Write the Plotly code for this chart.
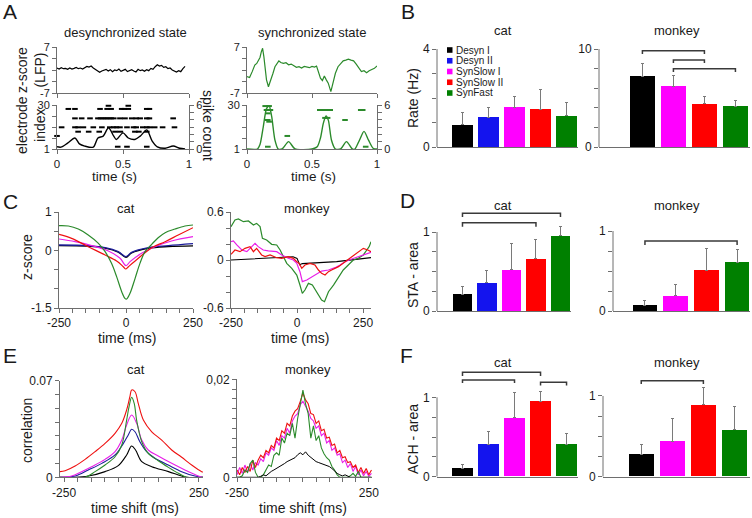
import plotly.graph_objects as go

W, H = 752, 518
FONT = "Liberation Sans, Arial, Helvetica, sans-serif"
AX = "#6e6e6e"
TXT = "#1a1a1a"

# bar colours / line colours
BAR_COLORS_CAT = ["#000000", "#1414ee", "#ff00ff", "#ff0000", "#008000"]
BAR_COLORS_MON = ["#000000", "#ff00ff", "#ff0000", "#008000"]
LEGEND_NAMES = ["Desyn I", "Desyn II", "SynSlow I", "SynSlow II", "SynFast"]
L_BLACK, L_BLUE, L_MAG, L_RED, L_GREEN = "#000000", "#1c1c9a", "#e81ee8", "#ee1111", "#2b8a2b"

# ---------------- Panel A data ----------------
desync_lfp = [0.6, 0.3, 0.7, 0.4, 0.5, 0.2, 0.6, 0.3, 0.5, 0.8, 0.4, 0.6, 0.3, 0.7, 1.1, 0.9, 1.2, 0.6, 0.2, -0.4,
              -0.7, -0.3, -0.1, 0.2, -0.3, 0.1, -0.5, 0.0, -0.2, 0.3, -0.4, -0.1, 0.2, -0.5, -0.1, 0.1, -0.3, -0.6,
              0.2, -0.2, 0.0, -0.4, 0.1, -0.2, 0.5, 0.2, 1.0, 1.6, 1.2, 1.4, 0.8, 1.0, 0.4, 0.6, 0.0, -0.3, -0.6,
              -0.2, -0.5, 0.4, 1.1]
desync_lfp_end = 0.97

sync_t = [0, 0.02, 0.04, 0.06, 0.075, 0.09, 0.1, 0.11, 0.12, 0.13, 0.14, 0.15, 0.165, 0.18, 0.2, 0.215, 0.23,
          0.245, 0.26, 0.28, 0.3, 0.32, 0.34, 0.36, 0.38, 0.4, 0.42, 0.44, 0.46, 0.48, 0.5, 0.52, 0.535, 0.55,
          0.565, 0.58, 0.595, 0.61, 0.625, 0.645, 0.665, 0.68, 0.7, 0.72, 0.74, 0.76, 0.78, 0.8, 0.82, 0.84,
          0.86, 0.88, 0.9, 0.92, 0.94, 0.96, 0.98, 1.0]
sync_lfp = [-2.0, -2.3, -0.5, 1.5, 2.0, 3.0, 3.8, 5.5, 6.6, 4.0, 0.5, -3.0, -5.1, -3.5, -1.0, 1.0, 2.0, 2.8, 2.3,
            2.0, 2.2, 1.6, 1.8, 1.2, 0.8, 1.0, 0.6, 1.1, 0.9, 0.7, 1.1, 0.9, 1.2, -1.0, -2.5, -3.2, -1.8, -3.0,
            -4.0, -6.6, -3.5, -1.0, 1.0, 2.0, 2.8, 3.0, 3.3, 3.0, 2.8, 1.8, 0.6, -0.5, -0.2, -0.8, -0.2, 0.2, 0.5,
            1.2]

desync_count_t = [0, 0.03, 0.08, 0.136, 0.17, 0.21, 0.275, 0.31, 0.35, 0.39, 0.43, 0.45, 0.5, 0.54, 0.59, 0.63,
                  0.68, 0.72, 0.76, 0.82, 0.88, 0.93, 0.97]
desync_count = [0.3, 0.25, 0.8, 1.5, 0.7, 0.4, 0.25, 1.5, 1.75, 2.9, 1.75, 1.3, 2.2, 1.5, 1.3, 1.75, 2.6, 1.1,
                0.3, 0.1, 0.4, 0.1, 0.0]
sync_count_t = [0, 0.08, 0.1, 0.125, 0.15, 0.17, 0.19, 0.215, 0.24, 0.27, 0.32, 0.37, 0.5, 0.54, 0.565, 0.587,
                0.608, 0.626, 0.65, 0.68, 0.72, 0.765, 0.81, 0.83, 0.865, 0.9, 0.935, 0.97, 1.0]
sync_count = [0, 0, 0.6, 3.0, 5.5, 5.9, 4.4, 1.2, 0, 0, 1.0, 0, 0, 0.3, 1.5, 3.5, 4.5, 3.9, 1.2, 0, 0, 1.0, 0, 0,
              1.2, 2.4, 1.2, 0.1, 0]

desync_raster_ch = [29.5, 27.4, 21.2, 15.3, 12.4, 9.6, 2.5]
desync_raster_times = [
    [0.39, 0.54],
    [0.086, 0.136, 0.326, 0.38, 0.41, 0.49, 0.51, 0.54, 0.68, 0.70],
    [0.136, 0.187, 0.25, 0.31, 0.33, 0.35, 0.37, 0.39, 0.41, 0.43, 0.477, 0.515, 0.566, 0.6, 0.63, 0.68, 0.70, 0.88],
    [0.035, 0.136, 0.16, 0.2, 0.275, 0.34, 0.40, 0.43, 0.45, 0.477, 0.53, 0.58, 0.6, 0.65, 0.68, 0.70, 0.74, 0.8, 0.89],
    [0.16, 0.24, 0.32, 0.44, 0.48, 0.59, 0.62, 0.68],
    [0.0],
    [0.46, 0.53, 0.68],
]
sync_raster_ch = [29.3, 26.7, 24.5, 21.5, 20.1, 19.0, 9.6, 2.5]
sync_raster_times = [
    [0.14, 0.17],
    [0.15, 0.18, 0.56, 0.58, 0.6, 0.62, 0.64, 0.875, 0.89],
    [0.16],
    [0.6, 0.62],
    [0.16, 0.754],
    [0.17],
    [0.31],
    [0.16, 0.913],
]

# ---------------- Panel B / D / F data ----------------
cat_rate = [0.9, 1.22, 1.63, 1.55, 1.27]
cat_rate_err = [0.49, 0.38, 0.45, 0.78, 0.53]
mon_rate = [7.2, 6.19, 4.42, 4.15]
mon_rate_err = [1.27, 1.11, 0.71, 0.55]
cat_sta = [0.215, 0.355, 0.52, 0.667, 0.95]
cat_sta_err = [0.095, 0.16, 0.337, 0.24, 0.12]
mon_sta = [0.075, 0.19, 0.51, 0.61]
mon_sta_err = [0.055, 0.14, 0.27, 0.16]
cat_ach = [0.106, 0.41, 0.74, 0.945, 0.41]
cat_ach_err = [0.05, 0.165, 0.32, 0.125, 0.137]
mon_ach = [0.278, 0.434, 0.89, 0.58]
mon_ach_err = [0.122, 0.286, 0.22, 0.287]

# significance brackets: (bar i, bar j, level, drop)
mon_rate_brackets = [(0, 2, 9.83, 0.34), (1, 2, 8.88, 0.31), (1, 3, 7.99, 0.34)]
cat_sta_brackets = [(0, 3, 1.118, 0.05), (0, 4, 1.237, 0.047)]
mon_sta_brackets = [(0, 3, 0.875, 0.05)]
cat_ach_brackets = [(0, 2, 1.218, 0.038), (0, 3, 1.315, 0.047), (3, 4, 1.189, 0.042)]
mon_ach_brackets = [(0, 2, 1.19, 0.041)]

# ---------------- Panel C data (STA) ----------------
cat_sta_green_t = [-250, -215, -178, -141, -103, -78, -54, -35, -16, -4, 2.5, 15, 34, 52, 71, 96, 120, 146, 183, 220, 250]
cat_sta_green = [0.644, 0.635, 0.557, 0.401, 0.184, -0.033, -0.337, -0.684, -1.075, -1.248, -1.266, -1.118, -0.727,
                 -0.337, -0.033, 0.158, 0.331, 0.462, 0.557, 0.635, 0.661]
cat_sta_red_t = [-250, -203, -141, -78, -35, -10, -1, 9, 46, 96, 146, 195, 250]
cat_sta_red = [0.418, 0.314, 0.097, -0.12, -0.276, -0.424, -0.484, -0.424, -0.206, 0.071, 0.227, 0.401, 0.592]
cat_sta_mag_t = [-250, -190, -128, -66, -22, 0, 15, 58, 108, 170, 250]
cat_sta_mag = [0.297, 0.227, 0.123, -0.016, -0.206, -0.398, -0.293, -0.076, 0.097, 0.245, 0.358]
cat_sta_blue_t = [-250, -141, -78, -29, 0, 21, 83, 158, 250]
cat_sta_blue = [0.141, 0.123, 0.071, -0.033, -0.163, -0.05, 0.071, 0.123, 0.175]
cat_sta_black_t = [-250, -141, -78, -29, 0, 21, 83, 158, 250]
cat_sta_black = [0.125, 0.11, 0.06, -0.045, -0.18, -0.065, 0.055, 0.1, 0.12]

mon_sta_green_t = [-250, -235, -222, -203, -184, -165, -153, -140, -131, -115, -96, -77, -64, -52, -39, -20, -1, 11,
                   20, 30, 43, 58, 74, 93, 104, 119, 138, 157, 175, 194, 213, 232, 251, 264, 273, 280]
mon_sta_green = [0.417, 0.5, 0.513, 0.479, 0.488, 0.438, 0.458, 0.417, 0.271, 0.25, 0.196, 0.188, 0.125, 0.042,
                 -0.042, -0.104, -0.188, -0.313, -0.417, -0.375, -0.292, -0.313, -0.404, -0.5, -0.521, -0.396,
                 -0.313, -0.208, -0.125, -0.063, 0, 0.021, 0.063, 0.125, 0.167, 0.229]
mon_sta_mag_t = [-250, -241, -228, -209, -190, -172, -159, -147, -128, -109, -77, -58, -33, -14, -1, 11, 20, 37, 58,
                 74, 93, 119, 144, 163, 182, 207, 232, 257, 280]
mon_sta_mag = [0.229, 0.238, 0.188, 0.125, 0.104, 0.167, 0.208, 0.167, 0.125, 0.113, 0.104, 0.063, 0.021, 0, -0.042,
               -0.146, -0.271, -0.25, -0.208, -0.167, -0.138, -0.125, -0.096, -0.063, -0.021, 0.013, 0.042, 0.063,
               0.096]
mon_sta_red_t = [-250, -235, -216, -197, -178, -165, -153, -134, -121, -102, -77, -58, -33, -14, -1, 8, 18, 30, 49,
                 68, 81, 93, 106, 119, 131, 157, 182, 207, 232, 251, 268, 280]
mon_sta_red = [0.071, 0.125, 0.104, 0.146, 0.167, 0.104, 0.146, 0.063, 0.042, 0.063, 0.029, 0.021, 0.042, 0.021,
               -0.021, -0.042, -0.104, -0.063, -0.042, -0.063, -0.125, -0.167, -0.188, -0.146, -0.125, -0.083,
               -0.021, 0.042, 0.104, 0.146, 0.125, 0.104]
mon_sta_black_t = [-250, -150, -50, -15, 0, 10, 20, 40, 150, 280]
mon_sta_black = [0, 0.015, 0.03, 0.04, 0.02, -0.06, -0.045, -0.04, -0.02, 0.03]

# ---------------- Panel E data (auto-correlation) ----------------
cat_ach_red_t = [-265, -246, -209, -172, -135, -98, -61, -36, -18, -6, 0.6, 13, 25, 44, 75, 112, 149, 186, 223, 260, 265]
cat_ach_red = [0.0041, 0.0048, 0.0082, 0.013, 0.0186, 0.0246, 0.0319, 0.0391, 0.0488, 0.0584, 0.0633, 0.062,
               0.0536, 0.0415, 0.033, 0.027, 0.0198, 0.0145, 0.0089, 0.0041, 0.0038]
cat_ach_green_t = [-265, -172, -135, -98, -61, -36, -18, -9, 0.6, 10, 19, 38, 62, 99, 137, 174, 205, 265]
cat_ach_green = [0, 0, 0.0041, 0.0089, 0.0149, 0.0234, 0.0415, 0.0512, 0.058, 0.0536, 0.0415, 0.0258, 0.0174,
                 0.012, 0.0072, 0.0029, 0, 0]
cat_ach_mag_t = [-265, -222, -185, -148, -98, -61, -36, -18, 0.6, 19, 38, 62, 99, 149, 198, 248, 265]
cat_ach_mag = [0, 0.0009, 0.0041, 0.0077, 0.013, 0.0186, 0.027, 0.0379, 0.0451, 0.0391, 0.027, 0.0198, 0.0154,
               0.0101, 0.0053, 0.0009, 0]
cat_ach_blue_t = [-265, -209, -160, -110, -61, -30, -12, 0.6, 13, 31, 56, 87, 136, 186, 235, 265]
cat_ach_blue = [0, 0.0009, 0.0053, 0.0101, 0.0162, 0.0246, 0.0307, 0.0348, 0.033, 0.0258, 0.0186, 0.0138, 0.0089,
                0.0041, 0.0009, 0]
cat_ach_black_t = [-265, -209, -160, -98, -49, -18, 0.6, 15, 38, 75, 137, 186, 205, 265]
cat_ach_black = [0, 0, 0.0009, 0.0041, 0.0085, 0.0162, 0.0227, 0.0198, 0.0113, 0.0077, 0.0041, 0.0009, 0, 0]

mon_ach_t = list(range(-250, 261, 10))
mon_ach_red_e3 = [1.5, 0.5, 2.0, 1.0, 2.2, 1.2, 3.5, 2.0, 3.5, 4.5,
                  4.0, 5.5, 5.0, 6.5, 6.0, 8.0, 7.5, 9.5, 9.0, 11.0,
                  10.5, 12.5, 13.5, 14.0, 15.5, 17.2, 15.8, 15.0, 13.0, 12.8,
                  11.0, 11.5, 9.5, 9.8, 8.0, 8.2, 6.5, 6.8, 5.0, 5.5,
                  4.0, 4.2, 3.0, 3.2, 2.0, 2.5, 1.0, 2.0, 0.8, 1.8,
                  0.5, 1.5]
mon_ach_mag_e3 = [0.5, 2.0, 0.8, 2.5, 1.0, 2.8, 1.5, 3.0, 2.5, 3.8,
                  3.2, 5.0, 4.5, 6.0, 5.5, 7.5, 6.5, 8.5, 8.0, 10.0,
                  9.0, 11.5, 12.5, 13.0, 14.8, 15.5, 14.5, 13.5, 12.0, 11.5,
                  10.0, 10.5, 8.5, 9.0, 7.0, 7.5, 5.5, 6.0, 4.5, 4.8,
                  3.0, 3.5, 2.0, 2.8, 1.2, 2.2, 0.5, 1.5, 0.3, 1.2,
                  0.2, 0.8]
mon_ach_green_e3 = [0, 0, 0.3, 1.5, 1.0, 2.8, 3.5, 1.0, 0, 0,
                    0.5, 1.5, 2.5, 2.2, 4.5, 5.0, 4.5, 8.0, 7.0, 9.0,
                    8.5, 11.0, 8.0, 12.0, 15.0, 17.8, 15.0, 13.0, 8.0, 10.5,
                    7.5, 8.5, 6.0, 4.8, 4.0, 3.5, 2.2, 1.5, 0.5, 0,
                    0, 0, 0, 0.3, 0.8, 0.2, 1.2, 0, 0, 0,
                    0, 0]
mon_ach_black_e3 = [0, 0, 0, 0, 0, 0, 0, 0, 0, 0.2,
                    0.5, 0.3, 0.8, 1.2, 1.5, 1.8, 2.2, 2.5, 2.8, 3.2,
                    3.5, 3.8, 4.0, 4.6, 5.0, 4.6, 5.2, 4.5, 4.0, 3.6,
                    3.2, 3.0, 2.8, 2.6, 2.4, 2.2, 1.8, 1.2, 0.8, 0.5,
                    0.3, 0.5, 0.2, 0, 0, 0, 0, 0, 0, 0,
                    0, 0]

# ---------------- figure scaffolding ----------------
fig = go.Figure()
layout = {}
shapes = []
annotations = []


def xd(a, b):
    return [a / W, b / W]


def yd(top, bot):
    return [1 - bot / H, 1 - top / H]


def nm(prefix, k):
    return prefix if k == 1 else f"{prefix}{k}"


def axis(rng, anchor, vals, texts, domain=None, showline=True, ticks="outside", side=None, overlaying=None,
         fsize=12):
    d = dict(range=rng, anchor=anchor, showgrid=False, zeroline=False, showline=showline, automargin=False,
             linecolor=AX, linewidth=1, ticks=ticks, ticklen=4, tickwidth=1, tickcolor=AX,
             tickmode="array", tickvals=vals, ticktext=texts,
             tickfont=dict(size=fsize, color=TXT, family=FONT), fixedrange=True)
    if domain is not None:
        d["domain"] = domain
    if side:
        d["side"] = side
    if overlaying:
        d["overlaying"] = overlaying
    return d


def txt(s, x, y, size=13, angle=0, xanchor="center"):
    annotations.append(dict(text=s, x=x / W, y=1 - y / H, xref="paper", yref="paper", showarrow=False,
                            font=dict(size=size, color=TXT, family=FONT), textangle=angle,
                            xanchor=xanchor, yanchor="middle"))


def line(k, x, y, color, width=1.2, shape="linear", yref=None, smoothing=None):
    ln = dict(color=color, width=width, shape=shape)
    if smoothing is not None:
        ln["smoothing"] = smoothing
    fig.add_trace(go.Scatter(x=x, y=y, mode="lines", line=ln, xaxis=nm("x", k),
                             yaxis=yref if yref else nm("y", k), hoverinfo="skip"))


def raster(k, chans, times, color):
    xs, ys = [], []
    for ch, ts in zip(chans, times):
        for t in ts:
            xs.append(t)
            ys.append(ch)
    fig.add_trace(go.Scatter(x=xs, y=ys, mode="markers", cliponaxis=False,
                             marker=dict(symbol="line-ew", size=4, line=dict(width=2, color=color)),
                             xaxis=nm("x", k), yaxis=nm("y", k), hoverinfo="skip"))


def bar_panel(k, xp0, xp1, zero_pix, max_pix, ymax, ytop, xr, vals, errs, colors, yt, ytt, brackets):
    ppu = (zero_pix - max_pix) / ymax
    top_pix = zero_pix - ytop * ppu
    xa, ya = nm("x", k), nm("y", k)
    layout[nm("xaxis", k)] = axis(xr, ya, [], [], domain=xd(xp0, xp1), ticks="")
    layout[nm("yaxis", k)] = axis([0, ytop], xa, yt, ytt, domain=yd(top_pix, zero_pix), showline=False)
    fig.add_trace(go.Bar(x=list(range(len(vals))), y=vals, width=0.8,
                         marker=dict(color=colors, line=dict(width=0)),
                         error_y=dict(type="data", symmetric=False, array=errs, arrayminus=[0] * len(errs),
                                      color="#7a7a7a", thickness=1, width=1.5),
                         xaxis=xa, yaxis=ya, hoverinfo="skip"))
    shapes.append(dict(type="line", xref="paper", yref=ya, x0=xp0 / W, x1=xp0 / W, y0=0, y1=ymax,
                       line=dict(color=AX, width=1)))
    for (i, j, lvl, drop) in brackets:
        shapes.append(dict(type="path", xref=xa, yref=ya,
                           path=f"M {i},{lvl - drop} L {i},{lvl} L {j},{lvl} L {j},{lvl - drop}",
                           line=dict(color="#3a3a3a", width=1.5)))


# ---------------- Panel A ----------------
n = len(desync_lfp)
desync_t = [i * desync_lfp_end / (n - 1) for i in range(n)]
lfp_ticks = [-7, -3.5, 0, 3.5, 7]
lfp_text = ["-7", "", "", "", "7"]
ch_ticks = [1, 8.25, 15.5, 22.75, 30]
ch_text = ["1", "", "", "", "30"]
cnt_ticks = [0, 1, 2, 3, 4, 5, 6]
cnt_text = ["0", "", "", "", "", "", "6"]
FA = 11

# desync LFP (k=1)
layout["xaxis"] = axis([0, 1], "y", [0, 0.5, 1], ["", "", ""], domain=xd(57, 189), fsize=FA)
layout["yaxis"] = axis([-7, 7], "x", lfp_ticks, lfp_text, domain=yd(47, 93), fsize=FA)
line(1, desync_t, desync_lfp, L_BLACK, 1.2)
# desync raster (k=2)
layout["xaxis2"] = axis([0, 1], "y2", [0, 0.5, 1], ["0", "0.5", "1"], domain=xd(57, 189), fsize=11.5)
layout["yaxis2"] = axis([1, 30], "x2", ch_ticks, ch_text, domain=yd(105, 149), fsize=FA)
layout["yaxis20"] = axis([0, 6], "x2", cnt_ticks, cnt_text, side="right", overlaying="y2", fsize=FA)
raster(2, desync_raster_ch, desync_raster_times, "#000000")
line(2, desync_count_t, desync_count, L_BLACK, 1.4, shape="spline", yref="y20", smoothing=0.8)
# sync LFP (k=3)
layout["xaxis3"] = axis([0, 1], "y3", [0, 0.5, 1], ["", "", ""], domain=xd(247, 377), fsize=FA)
layout["yaxis3"] = axis([-7, 7], "x3", lfp_ticks, lfp_text, domain=yd(47, 93), fsize=FA)
line(3, sync_t, sync_lfp, L_GREEN, 1.2)
# sync raster (k=4)
layout["xaxis4"] = axis([0, 1], "y4", [0, 0.5, 1], ["0", "0.5", "1"], domain=xd(247, 377), fsize=11.5)
layout["yaxis4"] = axis([1, 30], "x4", ch_ticks, ch_text, domain=yd(105, 149), fsize=FA)
layout["yaxis21"] = axis([0, 6], "x4", cnt_ticks, cnt_text, side="right", overlaying="y4", fsize=FA)
raster(4, sync_raster_ch, sync_raster_times, L_GREEN)
line(4, sync_count_t, sync_count, L_GREEN, 1.4, shape="spline", yref="y21", smoothing=0.7)

# ---------------- Panel B ----------------
bar_panel(5, 437, 578, 147, 49, 4, 4, [-0.98, 4.44], cat_rate, cat_rate_err, BAR_COLORS_CAT,
          [0, 1, 2, 3, 4], ["0", "", "", "", "4"], [])
bar_panel(6, 599, 750, 147, 49, 10, 10, [-1.4, 3.47], mon_rate, mon_rate_err, BAR_COLORS_MON,
          [0, 2, 4, 6, 8, 10], ["0", "", "", "", "", "10"], mon_rate_brackets)

# ---------------- Panel C ----------------
ms_ticks = list(range(-250, 251, 50))
ms_text_c = ["-250" if v == -250 else "250" if v == 250 else "0" if v == 0 else "" for v in ms_ticks]
ms_text_e = ["-250" if v == -250 else "250" if v == 250 else "" for v in ms_ticks]

layout["xaxis7"] = axis([-250, 250], "y7", ms_ticks, ms_text_c, domain=xd(59, 193))
layout["yaxis7"] = axis([-1.5, 1], "x7", [-1.5, -1, -0.5, 0, 0.5, 1], ["-1.5", "", "", "0", "", "1"],
                        domain=yd(212, 308))
line(7, cat_sta_black_t, cat_sta_black, L_BLACK, 1.3, "spline")
line(7, cat_sta_blue_t, cat_sta_blue, L_BLUE, 1.3, "spline")
line(7, cat_sta_mag_t, cat_sta_mag, L_MAG, 1.2, "spline")
line(7, cat_sta_red_t, cat_sta_red, L_RED, 1.2, "spline")
line(7, cat_sta_green_t, cat_sta_green, L_GREEN, 1.2, "spline")

layout["xaxis8"] = axis([-250, 280], "y8", ms_ticks, ms_text_c, domain=xd(231, 371))
layout["yaxis8"] = axis([-0.6, 0.6], "x8", [-0.6, -0.4, -0.2, 0, 0.2, 0.4, 0.6],
                        ["-0.6", "", "", "0", "", "", "0.6"], domain=yd(212, 308))
line(8, mon_sta_black_t, mon_sta_black, L_BLACK, 1.1)
line(8, mon_sta_green_t, mon_sta_green, L_GREEN, 1.2)
line(8, mon_sta_mag_t, mon_sta_mag, L_MAG, 1.2)
line(8, mon_sta_red_t, mon_sta_red, L_RED, 1.2)

# ---------------- Panel D ----------------
unit_ticks = [0, 0.25, 0.5, 0.75, 1]
unit_text = ["0", "", "", "", "1"]
bar_panel(9, 437, 571, 311, 232, 1, 1.27, [-1.04, 4.43], cat_sta, cat_sta_err, BAR_COLORS_CAT,
          unit_ticks, unit_text, cat_sta_brackets)
bar_panel(10, 613, 750, 311, 231, 1, 1.0, [-1.04, 3.42], mon_sta, mon_sta_err, BAR_COLORS_MON,
          unit_ticks, unit_text, mon_sta_brackets)

# ---------------- Panel E ----------------
layout["xaxis11"] = axis([-265, 265], "y11", ms_ticks, ms_text_e, domain=xd(60, 203))
layout["yaxis11"] = axis([0, 0.07], "x11", [0, 0.01, 0.02, 0.03, 0.04, 0.05, 0.06, 0.07],
                         ["0", "", "", "", "", "", "", "0.07"], domain=yd(380.7, 477.3))
line(11, cat_ach_black_t, cat_ach_black, L_BLACK, 1.1, "spline")
line(11, cat_ach_blue_t, cat_ach_blue, L_BLUE, 1.1, "spline")
line(11, cat_ach_mag_t, cat_ach_mag, L_MAG, 1.1, "spline")
line(11, cat_ach_green_t, cat_ach_green, L_GREEN, 1.1, "spline")
line(11, cat_ach_red_t, cat_ach_red, L_RED, 1.1, "spline")

layout["xaxis12"] = axis([-250, 262], "y12", ms_ticks, ms_text_e, domain=xd(237, 372))
layout["yaxis12"] = axis([0, 0.02], "x12", [i * 0.002 for i in range(11)],
                         ["0"] + [""] * 9 + ["0,02"], domain=yd(379.3, 477.3))
line(12, mon_ach_t, [v * 1e-3 for v in mon_ach_mag_e3], L_MAG, 1.1)
line(12, mon_ach_t, [v * 1e-3 for v in mon_ach_red_e3], L_RED, 1.1)
line(12, mon_ach_t, [v * 1e-3 for v in mon_ach_green_e3], L_GREEN, 1.1)
line(12, mon_ach_t, [v * 1e-3 for v in mon_ach_black_e3], L_BLACK, 1.0)

# ---------------- Panel F ----------------
bar_panel(13, 437, 578, 476.7, 397.3, 1, 1.34, [-0.98, 4.44], cat_ach, cat_ach_err, BAR_COLORS_CAT,
          unit_ticks, unit_text, cat_ach_brackets)
bar_panel(14, 603, 750, 476.7, 396, 1, 1.22, [-1.23, 3.50], mon_ach, mon_ach_err, BAR_COLORS_MON,
          unit_ticks, unit_text, mon_ach_brackets)

# ---------------- legend in B ----------------
for i, (name, col) in enumerate(zip(LEGEND_NAMES, BAR_COLORS_CAT)):
    yc = 50 + i * 10.75
    shapes.append(dict(type="rect", xref="paper", yref="paper", x0=447 / W, x1=452.5 / W,
                       y0=1 - (yc + 2.8) / H, y1=1 - (yc - 2.8) / H, fillcolor=col, line=dict(width=0)))
    txt(name, 453.5, yc, size=10, xanchor="left")

# ---------------- texts ----------------
for letter, x, y in [("A", 10, 12), ("B", 408, 12), ("C", 10, 201), ("D", 407, 200), ("E", 10, 355), ("F", 406, 355)]:
    txt(letter, x, y, size=21)

txt("desynchronized state", 125, 32.5, 13)
txt("synchronized state", 312, 32.5, 13)
txt("z-score<br>(LFP)", 31, 70, 14, angle=-90)
txt("electrode<br>index", 31, 125, 14, angle=-90)
txt("spike count", 208, 125, 14, angle=90)
txt("time (s)", 114, 176, 13.5)
txt("time (s)", 313, 176, 13.5)

for x, y, s in [(503, 31, "cat"), (677, 31, "monkey"), (126, 208, "cat"), (307, 208, "monkey"),
                (503, 205, "cat"), (677, 205, "monkey"), (136, 369, "cat"), (308, 369, "monkey"),
                (503, 362, "cat"), (677, 362, "monkey")]:
    txt(s, x, y, 13)

txt("Rate (Hz)", 413, 98, 14, angle=-90)
txt("STA - area", 413, 275, 14, angle=-90)
txt("ACH - area", 413, 439, 14, angle=-90)
txt("z-score", 27, 257, 14, angle=-90)
txt("correlation", 27, 431, 14, angle=-90)
txt("time (ms)", 127, 338, 14)
txt("time (ms)", 300, 338, 14)
txt("time shift (ms)", 135, 508, 14)
txt("time shift (ms)", 303, 508, 14)

layout.update(dict(template="none", width=W, height=H,
                   margin=dict(l=0, r=0, t=0, b=0, pad=0, autoexpand=False), paper_bgcolor="white",
                   plot_bgcolor="rgba(0,0,0,0)", showlegend=False, font=dict(family=FONT, size=12, color=TXT),
                   shapes=shapes, annotations=annotations, bargap=0))
fig.update_layout(**layout)
fig.write_html("out.html", config={"displayModeBar": False},
               post_script="document.body.style.margin='0px';document.body.style.padding='0px';"
                           "document.body.style.overflow='hidden';")
